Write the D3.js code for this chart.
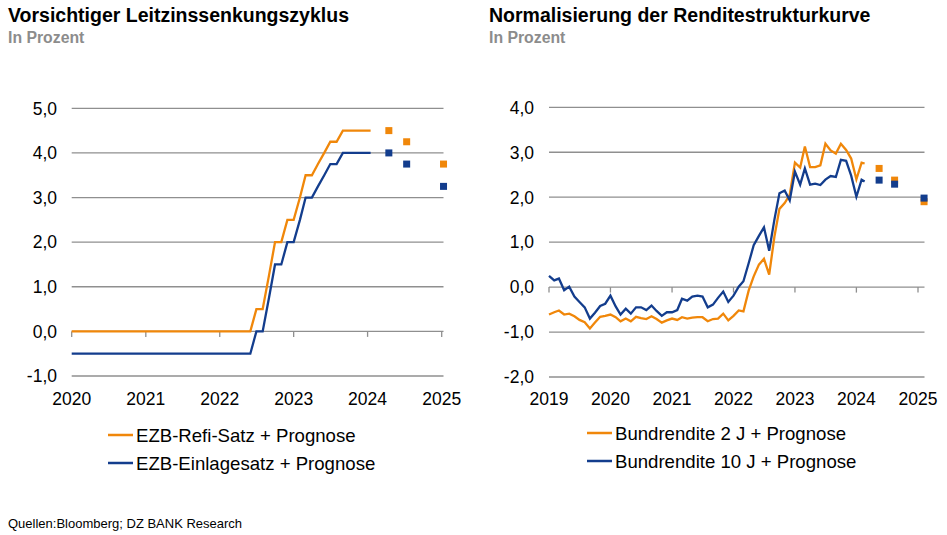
<!DOCTYPE html>
<html><head><meta charset="utf-8">
<script src="https://cdn.jsdelivr.net/npm/d3@7"></script>
<style>
body{margin:0;background:#fff;}
svg{display:block;font-family:"Liberation Sans",Arial,sans-serif;}
</style></head>
<body><svg id="c" width="947" height="535"></svg>
<script>
// ---------- DATA ----------
// Left chart: monthly values from Jan 2020 to Jan 2024 (+ last observation)
const leftStart = "2020-01-01";
const leftLastDate = "2024-01-16";
const refiValues = [0,0,0,0,0,0,0,0,0,0,0,0, 0,0,0,0,0,0,0,0,0,0,0,0,
  0,0,0,0,0,0,0.5,0.5,1.25,2.0,2.0,2.5, 2.5,3.0,3.5,3.5,3.75,4.0,4.25,4.25,4.5,4.5,4.5,4.5, 4.5, 4.5];
const depoValues = [-0.5,-0.5,-0.5,-0.5,-0.5,-0.5,-0.5,-0.5,-0.5,-0.5,-0.5,-0.5,
  -0.5,-0.5,-0.5,-0.5,-0.5,-0.5,-0.5,-0.5,-0.5,-0.5,-0.5,-0.5,
  -0.5,-0.5,-0.5,-0.5,-0.5,-0.5,0,0,0.75,1.5,1.5,2.0, 2.0,2.5,3.0,3.0,3.25,3.5,3.75,3.75,4.0,4.0,4.0,4.0, 4.0, 4.0];
const leftFcDates = ["2024-04-15","2024-07-12","2025-01-10"];
const refiForecast = [4.5,4.25,3.75];
const depoForecast = [4.0,3.75,3.25];
const leftYears = ["2020","2021","2022","2023","2024","2025"];
const leftYTicks = [-1,0,1,2,3,4,5];

// Right chart: monthly values from Jan 2019 to Feb 2024 (+ last observation)
const rightStart = "2019-01-01";
const rightLastDate = "2024-02-19";
const bund2Values = [-0.61,-0.56,-0.52,-0.61,-0.59,-0.65,-0.73,-0.78,-0.92,-0.79,-0.66,-0.64,
  -0.61,-0.67,-0.76,-0.70,-0.76,-0.66,-0.69,-0.71,-0.65,-0.71,-0.79,-0.74,
  -0.70,-0.73,-0.67,-0.70,-0.68,-0.67,-0.67,-0.76,-0.71,-0.70,-0.59,-0.74,
  -0.64,-0.52,-0.54,-0.08,0.24,0.50,0.63,0.28,1.12,1.74,1.87,2.05,
  2.77,2.66,3.13,2.67,2.67,2.71,3.19,3.04,2.97,3.19,3.05,2.86,
  2.40,2.77, 2.75];
const bund10Values = [0.25,0.15,0.19,-0.07,0.01,-0.21,-0.33,-0.45,-0.70,-0.57,-0.42,-0.37,
  -0.19,-0.43,-0.61,-0.48,-0.59,-0.45,-0.45,-0.51,-0.41,-0.53,-0.64,-0.56,
  -0.56,-0.51,-0.26,-0.30,-0.21,-0.19,-0.21,-0.45,-0.39,-0.24,-0.10,-0.33,
  -0.19,0.01,0.13,0.53,0.93,1.14,1.33,0.81,1.50,2.09,2.15,1.93,
  2.57,2.28,2.64,2.28,2.30,2.27,2.39,2.47,2.45,2.83,2.81,2.48,
  2.01,2.39, 2.35];
const rightFcDates = ["2024-05-15","2024-08-15","2025-02-06"];
const bund2Forecast = [2.64,2.38,1.90];
const bund10Forecast = [2.38,2.29,1.98];
const rightYears = ["2019","2020","2021","2022","2023","2024","2025"];
const rightYTicks = [-2,-1,0,1,2,3,4];

const ORANGE = "#F0870A", BLUE = "#133D8D", GRID = "#8F8F8F";
const parse = d3.timeParse("%Y-%m-%d");
const fmt = v => d3.format(".1f")(v).replace(".", ",").replace("−","-");

function series(start, values, lastDate){
  const s = parse(start);
  return values.map((v,i) => ({
    date: i === values.length-1 ? parse(lastDate) : d3.timeMonth.offset(s, i),
    v
  }));
}

const svg = d3.select("#c");

function chart(o){
  const g = svg.append("g");
  const x = d3.scaleTime().domain([parse(o.years[0]+"-01-01"), parse(o.years[o.years.length-1]+"-01-01")]).range(o.xr);
  const y = d3.scaleLinear().domain([o.yTicks[0], o.yTicks[o.yTicks.length-1]]).range(o.yr);
  // title
  g.append("text").attr("x", o.tx).attr("y", 22).attr("font-size", 19.5).attr("font-weight","bold").attr("fill","#000").text(o.title);
  g.append("text").attr("x", o.tx).attr("y", 43).attr("font-size", 15.8).attr("font-weight","bold").attr("fill","#8C8C8C").text("In Prozent");
  // grid
  g.selectAll(".grid").data(o.yTicks).join("line")
    .attr("x1", o.xr[0]).attr("x2", o.gridEnd)
    .attr("y1", d => y(d)).attr("y2", d => y(d))
    .attr("stroke", GRID).attr("stroke-width", 1.3);
  g.selectAll(".yl").data(o.yTicks).join("text")
    .attr("x", o.ylx).attr("y", d => y(d)).attr("dy","0.36em")
    .attr("text-anchor","end").attr("font-size", 17.5).attr("fill","#000").text(fmt);
  // x ticks on zero line
  const years = o.years.map(yy => parse(yy+"-01-01"));
  g.selectAll(".xt").data(years).join("line")
    .attr("x1", d => x(d)).attr("x2", d => x(d))
    .attr("y1", y(0)).attr("y2", y(0)+5.5)
    .attr("stroke", GRID).attr("stroke-width", 1.3);
  g.selectAll(".xl").data(years).join("text")
    .attr("x", d => x(d)).attr("y", 404.5).attr("text-anchor","middle")
    .attr("font-size", 17.5).attr("fill","#000").text(d3.timeFormat("%Y"));
  // lines
  const line = d3.line().x(d => x(d.date)).y(d => y(d.v));
  o.lines.forEach(l => {
    g.append("path").datum(l.data).attr("d", line).attr("fill","none")
      .attr("stroke", l.color).attr("stroke-width", 2.3).attr("stroke-linejoin","miter");
  });
  // forecast squares
  const sq = 7;
  o.forecasts.forEach(f => {
    g.selectAll(null).data(f.values).join("rect")
      .attr("x", (d,i) => x(parse(o.fcDates[i])) - sq/2)
      .attr("y", d => y(d) - sq/2)
      .attr("width", sq).attr("height", sq).attr("fill", f.color);
  });
  // legend
  o.legend.forEach((l,i) => {
    const ly = o.legY + i*28;
    g.append("line").attr("x1", o.legX).attr("x2", o.legX+25).attr("y1", ly).attr("y2", ly)
      .attr("stroke", l.color).attr("stroke-width", 2.5);
    g.append("text").attr("x", o.legX+28).attr("y", ly).attr("dy","0.36em")
      .attr("font-size", 18.6).attr("fill","#000").text(l.label);
  });
}

chart({
  title: "Vorsichtiger Leitzinssenkungszyklus", tx: 8,
  years: leftYears, yTicks: leftYTicks,
  xr: [71.7, 441.7], yr: [376, 108.3], gridEnd: 443.5, ylx: 57,
  fcDates: leftFcDates,
  lines: [
    {data: series(leftStart, refiValues, leftLastDate), color: ORANGE},
    {data: series(leftStart, depoValues, leftLastDate), color: BLUE}
  ],
  forecasts: [{values: refiForecast, color: ORANGE},{values: depoForecast, color: BLUE}],
  legX: 108, legY: 435,
  legend: [{label:"EZB-Refi-Satz + Prognose", color: ORANGE},{label:"EZB-Einlagesatz + Prognose", color: BLUE}]
});

chart({
  title: "Normalisierung der Renditestrukturkurve", tx: 489,
  years: rightYears, yTicks: rightYTicks,
  xr: [549, 918], yr: [377, 107.3], gridEnd: 924.5, ylx: 534,
  fcDates: rightFcDates,
  lines: [
    {data: series(rightStart, bund2Values, rightLastDate), color: ORANGE},
    {data: series(rightStart, bund10Values, rightLastDate), color: BLUE}
  ],
  forecasts: [{values: bund2Forecast, color: ORANGE},{values: bund10Forecast, color: BLUE}],
  legX: 587, legY: 433,
  legend: [{label:"Bundrendite 2 J + Prognose", color: ORANGE},{label:"Bundrendite 10 J + Prognose", color: BLUE}]
});

svg.append("text").attr("x", 8).attr("y", 527.5).attr("font-size", 13).attr("fill","#000")
  .text("Quellen:Bloomberg; DZ BANK Research");
</script>
</body></html>
